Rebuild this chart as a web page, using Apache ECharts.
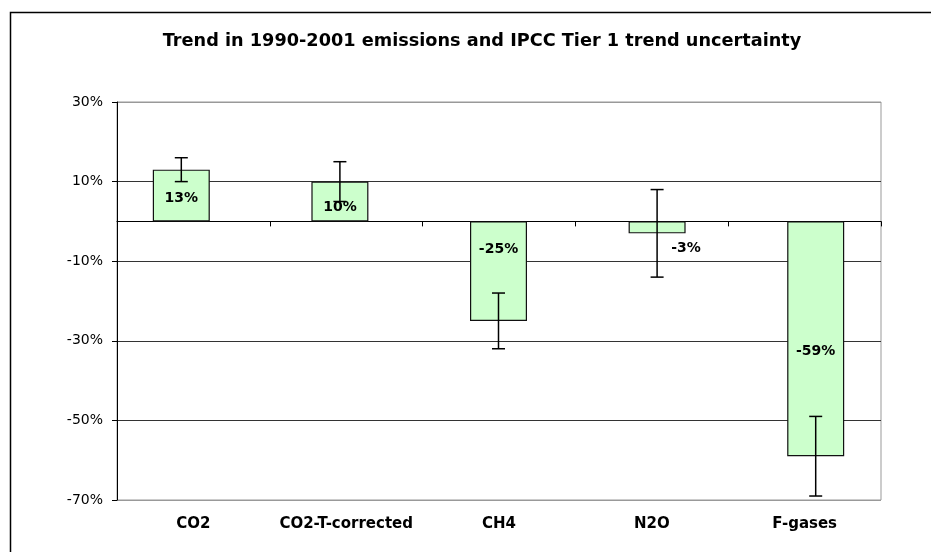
<!DOCTYPE html>
<html>
<head>
<meta charset="utf-8">
<script src="https://cdn.jsdelivr.net/npm/echarts@6/dist/echarts.min.js"></script>
<style>
  html, body { margin: 0; padding: 0; background: #fff; }
  #chart { width: 931px; height: 552px; }
</style>
</head>
<body>
<div id="chart"></div>
<script>
var categories = ['CO2', 'CO2-T-corrected', 'CH4', 'N2O', 'F-gases'];
var trend = [13, 10, -25, -3, -59];       // % change 1990-2001
var errLow = [10, 5, -32, -14, -69];      // lower end of uncertainty
var errHigh = [16, 15, -18, 8, -49];      // upper end of uncertainty
var yTicks = [-70, -50, -30, -10, 10, 30];

// label nudges, px from bar centre (Excel labels were moved by hand)
var labelShift = [[0, 3], [0, 6], [0, -22], [29, 21], [0, 13]];

var font = '"DejaVu Sans", sans-serif';

var chart = echarts.init(document.getElementById('chart'));

var option = {
  animation: false,
  backgroundColor: '#fff',
  title: {
    text: 'Trend in 1990-2001 emissions and IPCC Tier 1 trend uncertainty',
    left: 477,
    textAlign: 'center',
    top: 27,
    textStyle: { fontFamily: font, fontSize: 17.7, fontWeight: 'bold', color: '#000' }
  },
  graphic: [{
    type: 'rect',
    left: 8, top: 10,
    shape: { width: 940, height: 560 },
    style: { fill: null, stroke: '#000', lineWidth: 1.5 },
    silent: true
  }],
  grid: [
    { left: 117, right: 50, top: 102, bottom: 52, show: true, borderColor: '#999', borderWidth: 1 },
    { left: 102, right: 36, top: 102, bottom: 52 }
  ],
  xAxis: [
    {
      // category names along the bottom
      type: 'category', gridIndex: 0, position: 'bottom',
      data: categories,
      axisLine: { show: false, onZero: false },
      axisTick: { show: false },
      axisLabel: { interval: 0, margin: 17, fontFamily: font, fontSize: 15, fontWeight: 'bold', color: '#000' }
    },
    {
      // the zero line with its small ticks
      type: 'category', gridIndex: 0, position: 'top',
      data: categories,
      axisLine: { show: true, onZero: true, lineStyle: { color: '#000', width: 1 } },
      axisTick: { show: true, inside: true, length: 5, lineStyle: { color: '#000' } },
      axisLabel: { show: false }
    },
    {
      type: 'category', gridIndex: 1,
      data: categories,
      show: false
    }
  ],
  yAxis: [
    {
      type: 'value', gridIndex: 0,
      min: yTicks[0], max: yTicks[yTicks.length - 1], interval: 20,
      axisLine: { show: true, lineStyle: { color: '#000', width: 1 } },
      axisTick: { show: true, length: 5, lineStyle: { color: '#000' } },
      axisLabel: {
        margin: 14, fontFamily: font, fontSize: 14, color: '#000',
        formatter: function(v) { return v + '%'; }
      },
      splitLine: {
        show: true,
        lineStyle: { color: ['#999', '#333', '#333', '#333', '#333', '#999'], width: 1 }
      }
    },
    {
      type: 'value', gridIndex: 1,
      min: yTicks[0], max: yTicks[yTicks.length - 1], interval: 20,
      show: false
    }
  ],
  series: [
    {
      type: 'bar',
      xAxisIndex: 2, yAxisIndex: 1,
      barWidth: 57,
      itemStyle: { color: '#ccffcc', borderColor: '#111', borderWidth: 1.2 },
      label: {
        show: true, position: 'inside',
        fontFamily: font, fontSize: 14, fontWeight: 'bold', color: '#000',
        formatter: function(p) { return p.value + '%'; }
      },
      data: trend.map(function(v, i) {
        return { value: v, label: { offset: labelShift[i] } };
      }),
      z: 2
    },
    {
      type: 'custom',
      xAxisIndex: 2, yAxisIndex: 1,
      data: categories.map(function(c, i) { return [i, errLow[i], errHigh[i]]; }),
      renderItem: function(params, api) {
        var lo = api.coord([api.value(0), api.value(1)]);
        var hi = api.coord([api.value(0), api.value(2)]);
        var half = 6.5;
        var st = { stroke: '#000', lineWidth: 1.5 };
        return {
          type: 'group',
          children: [
            { type: 'line', shape: { x1: lo[0], y1: lo[1], x2: hi[0], y2: hi[1] }, style: st },
            { type: 'line', shape: { x1: lo[0] - half, y1: lo[1], x2: lo[0] + half, y2: lo[1] }, style: st },
            { type: 'line', shape: { x1: hi[0] - half, y1: hi[1], x2: hi[0] + half, y2: hi[1] }, style: st }
          ]
        };
      },
      z: 5
    }
  ]
};

chart.setOption(option);
</script>
</body>
</html>
